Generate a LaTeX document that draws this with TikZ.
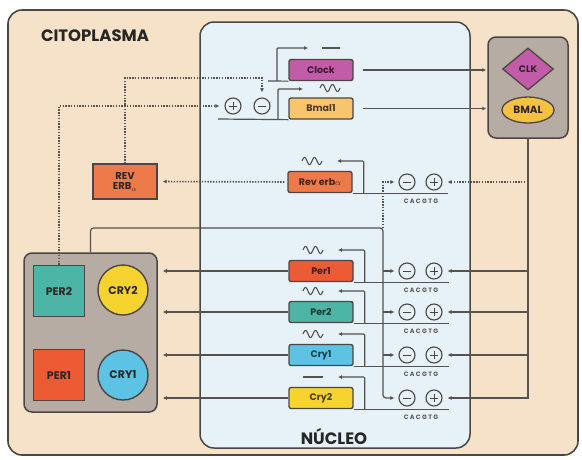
\documentclass[tikz,border=0pt]{standalone}
\usepackage{fontspec}
\setmainfont{Poppins}
\usetikzlibrary{arrows.meta,shapes.geometric,calc}
\definecolor{bgbeige}{HTML}{F5E2C8}
\definecolor{nucblue}{HTML}{E7F1F8}
\definecolor{boxgray}{HTML}{B7ACA3}
\definecolor{edge}{HTML}{4A4644}
\definecolor{linec}{HTML}{55524F}
\definecolor{clockc}{HTML}{C25CA8}
\definecolor{bmalc}{HTML}{F8C46E}
\definecolor{revc}{HTML}{EE7A4C}
\definecolor{per1c}{HTML}{EC5B34}
\definecolor{per2c}{HTML}{4DB5A6}
\definecolor{cry1c}{HTML}{5CC3E4}
\definecolor{cry2c}{HTML}{F7D330}
\definecolor{bmalp}{HTML}{F6C143}
\definecolor{txtd}{HTML}{2E2626}
\tikzset{
  gene/.style={draw=edge, line width=1.3pt, rounded corners=2pt, minimum width=64pt,
    minimum height=21pt, inner sep=0pt, font=\bfseries\fontsize{9.5}{10}\selectfont},
  reg/.style={circle, draw=edge, line width=1.1pt, minimum size=16pt, inner sep=0pt, fill=nucblue},
  negc/.style={reg, path picture={\draw[line width=1pt, edge]
     ([xshift=-4pt]path picture bounding box.center) -- ([xshift=4pt]path picture bounding box.center);}},
  posc/.style={reg, path picture={\draw[line width=1pt, edge]
     ([xshift=-4pt]path picture bounding box.center) -- ([xshift=4pt]path picture bounding box.center)
     ([yshift=-4pt]path picture bounding box.center) -- ([yshift=4pt]path picture bounding box.center);}},
  cac/.style={font=\bfseries\fontsize{6.3}{6.3}\selectfont\addfontfeatures{LetterSpace=22}, text=edge!90, inner sep=0pt},
  conn/.style={draw=linec, line width=1.2pt},
  dots/.style={draw=linec, line width=1.6pt, dash pattern=on 1.4pt off 1.4pt},
  tip/.style={-{Latex[length=4pt,width=4pt]}},
  gbox/.style={draw=edge, line width=1.5pt, fill=boxgray, rounded corners=8pt},
  prot/.style={draw=edge, line width=1.4pt, minimum size=51pt, inner sep=0pt,
    font=\bfseries\fontsize{11}{11}\selectfont, text=txtd},
  protc/.style={prot, circle, minimum size=50pt},
  lbl/.style={font=\bfseries\fontsize{16.5}{16.5}\selectfont, text=black!85, inner sep=0pt},
  wave/.pic={\draw[line width=1.1pt, linec] plot[domain=0:20, samples=60, smooth] (\x-10, {-3.5*sin(\x*36)});}
}
\begin{document}
\begin{tikzpicture}[x=1pt, y=-1pt]
\useasboundingbox (0,0) rectangle (582,459);
\fill[white] (0,0) rectangle (582,459);
% frames
\draw[draw=edge, line width=1.6pt, fill=bgbeige, rounded corners=14pt] (8,10) rectangle (578,455);
\draw[draw=edge, line width=1.5pt, fill=nucblue, rounded corners=14pt] (200,22) rectangle (470,448);
\node[lbl] (cito) at (95,36) {CITOPLASMA};
\node[lbl] (nuc) at (334,436) {NÚCLEO};

% side boxes
\node[gbox, minimum width=80pt, minimum height=101pt] (rbox) at (528,87.5) {};
\node[diamond, draw=edge, line width=1.3pt, fill=clockc, minimum width=51pt, minimum height=42pt, inner sep=0pt,
  font=\bfseries\fontsize{9.5}{9.5}\selectfont, text=txtd] (clk) at (528,69) {CLK};
\node[ellipse, draw=edge, line width=1.3pt, fill=bmalp, minimum width=52pt, minimum height=26pt, inner sep=0pt,
  font=\bfseries\fontsize{10.5}{10.5}\selectfont, text=txtd] (bmalprot) at (528,110) {BMAL};

\node[gbox, minimum width=133pt, minimum height=159pt] (lbox) at (90.5,332.5) {};
\node[prot, fill=per2c] (prPER2) at (59,291) {PER2};
\node[protc, fill=cry2c] (prCRY2) at (123,290) {CRY2};
\node[prot, fill=per1c] (prPER1) at (59,375) {PER1};
\node[protc, fill=cry1c] (prCRY1) at (123,375) {CRY1};

\node[draw=edge, line width=1.4pt, fill=revc, minimum width=64pt, minimum height=35pt, inner sep=0pt,
  align=center, font=\bfseries\fontsize{10}{10.5}\selectfont, text=txtd] (reverb) at (125,181.5) {REV\\ERB$_{\alpha}$};

% genes
\node[gene, fill=clockc, text=clockc!30!black] (clock) at (321,70) {Clock};
\node[gene, fill=bmalc, text=bmalc!30!black] (bmal1) at (321,108.5) {Bmal1};
\node[gene, fill=revc, text=revc!30!black] (rev) at (320,182) {Rev erb$\alpha$};
\node[gene, fill=per1c, text=per1c!30!black] (per1) at (321,271) {Per1};
\node[gene, fill=per2c, text=per2c!30!black] (per2) at (321,312) {Per2};
\node[gene, fill=cry1c, text=cry1c!30!black] (cry1) at (321,355) {Cry1};
\node[gene, fill=cry2c, text=cry2c!30!black] (cry2) at (321,398) {Cry2};

% regulators
\node[posc] (bp) at (233,106) {};
\node[negc] (bm) at (262,106) {};
\foreach \g/\yy in {rev/182, per1/271, per2/312, cry1/355, cry2/398}{
  \node[negc] (\g m) at (407,\yy) {};
  \node[posc] (\g p) at (434,\yy) {};
  \node[cac] (\g cac) at (421,\yy+19) {CACGTG};
  \draw[conn] (\g.south east) -- ++(95,0);
  \draw[conn, tip, rounded corners=1pt] ($(\g.south east)+(11,0)$) |- ($(\g.center)+(17,-21)$);
}
\foreach \g in {rev, per1, per2, cry1}{
  \pic at ($(\g.center)+(-8,-21)$) {wave};
}
\draw[conn] ($(cry2.center)+(-18,-21)$) -- ($(cry2.center)+(2,-21)$);

% top promoters
\coordinate (clkstart) at (268,81);
\coordinate (bmstart) at (218,119);
\draw[conn] (clkstart) -- (clock.south west);
\draw[conn] (bmstart) -- (bmal1.south west);
\draw[conn, tip, rounded corners=1pt] (277,81) |- (308,48);
\draw[conn] (322,48) -- (340,48);
\draw[conn, tip, rounded corners=1pt] (278,119) |- (303,89);
\pic at (330,88) {wave};

% outputs to proteins
\draw[conn, tip, shorten <=9pt, shorten >=1pt] (clock.east) -- (clock.east -| rbox.west);
\draw[conn, tip, shorten <=9pt, shorten >=1pt] (bmal1.east) -- (bmal1.east -| rbox.west);
\foreach \g in {per1, per2, cry1, cry2}{
  \draw[conn, tip, shorten >=5pt] (\g.west) -- (\g.west -| lbox.east);
}
\draw[dots, tip, shorten <=3pt, shorten >=5pt] (rev.west) -- (reverb.east);

% CLK/BMAL activation
\draw[conn, tip, shorten >=5pt] (rbox.south) |- (cry2p.east);
\foreach \g in {per1, per2, cry1}{
  \draw[conn, tip, shorten >=5pt] (rbox.south |- \g p) -- (\g p.east);
}
\draw[dots, tip, shorten >=5pt] (rbox.south |- revp) -- (revp.east);

% PER/CRY repression
\coordinate (lc) at (383,228);
\draw[conn, tip, shorten >=4pt, rounded corners=3pt] (lbox.north) |- (lc) |- (cry2m.west);
\foreach \g in {per1, per2, cry1}{
  \draw[conn, tip, shorten >=4pt] (lc |- \g m) -- (\g m.west);
}
\draw[dots, tip, shorten >=4pt] (lc) |- (revm.west);

% cytoplasmic feedback
\coordinate (bend1) at (262,78);
\draw[dots, tip, shorten >=5pt] (reverb.north) |- (bend1) -- (bm.north);
\draw[dots, tip, shorten >=5pt] (prPER2.north) |- (bp.west);
\end{tikzpicture}
\end{document}
